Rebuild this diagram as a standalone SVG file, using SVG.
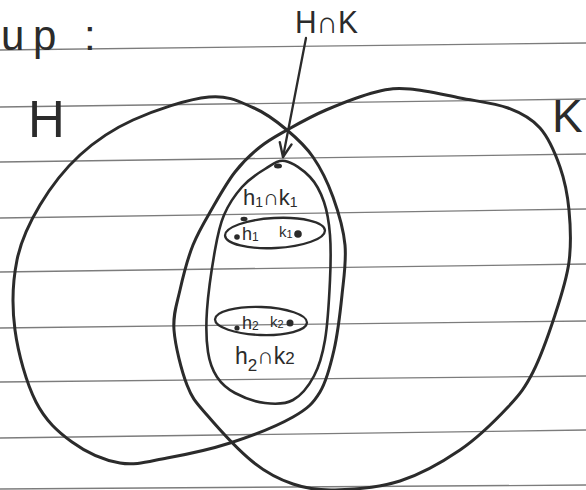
<svg xmlns="http://www.w3.org/2000/svg" width="586" height="490" viewBox="0 0 586 490">
<style>
.rule{stroke:#7c7c7c;stroke-width:1.3;fill:none}
.ink{stroke:#2b2b2b;fill:none;stroke-linecap:round;stroke-linejoin:round}
.big{stroke-width:3}
.mid{stroke-width:2.6}
.sm{stroke-width:2.3}
.dot{fill:#2b2b2b}
text{font-family:"Liberation Sans","DejaVu Sans",sans-serif;fill:#2b2b2b}
</style>
<defs>
<marker id="vhead" viewBox="-16 -8 18 16" markerWidth="18" markerHeight="16" refX="0" refY="0" orient="auto" markerUnits="userSpaceOnUse">
<path d="M-14,-6 L0,0 L-14,6" fill="none" stroke="#2b2b2b" stroke-width="2.4" stroke-linecap="round" stroke-linejoin="round"/>
</marker>
</defs>
<rect width="586" height="490" fill="#ffffff"/>
<g id="paper-lines">
<line class="rule" x1="0" y1="50" x2="586" y2="43"/>
<line class="rule" x1="0" y1="107" x2="586" y2="99"/>
<line class="rule" x1="0" y1="162" x2="586" y2="154"/>
<line class="rule" x1="0" y1="218" x2="586" y2="209"/>
<line class="rule" x1="0" y1="272" x2="586" y2="264"/>
<line class="rule" x1="0" y1="328" x2="586" y2="321"/>
<line class="rule" x1="0" y1="382" x2="586" y2="376"/>
<line class="rule" x1="0" y1="438" x2="586" y2="430"/>
<line class="rule" x1="0" y1="489" x2="586" y2="485"/>
</g>
<g id="title">
<text y="50" font-size="42"><tspan x="1">u</tspan><tspan x="33">p</tspan><tspan x="84">:</tspan></text>
</g>
<g id="set-H">
<path class="ink big" d="M209,97 C229.2,95 241,102.5 254,108 C267,113.5 277.2,121.8 287,130 C296.8,138.2 305.3,145.8 313,157 C320.7,168.2 327.7,182.3 333,197 C338.3,211.7 343.5,228.7 345,245 C346.5,261.3 343.8,277.5 342,295 C340.2,312.5 337.7,333.8 334,350 C330.3,366.2 326.8,380.8 320,392 C313.2,403.2 308,408.5 293,417 C278,425.5 251,436.2 230,443 C209,449.8 185.3,454.7 167,458 C148.7,461.3 135.8,465.7 120,463 C104.2,460.3 86,452.2 72,442 C58,431.8 45.5,420.7 36,402 C26.5,383.3 18.2,353.7 15,330 C11.8,306.3 12.8,280.8 17,260 C21.2,239.2 29.5,222.5 40,205 C50.5,187.5 64.5,169.2 80,155 C95.5,140.8 111.5,129.7 133,120 C154.5,110.3 187.5,99 209,97 Z"/>
<text x="28" y="137" font-size="51">H</text>
</g>
<g id="set-K">
<path class="ink big" d="M287,130 C298,123.8 311.2,116.3 326,110 C340.8,103.7 362,95.5 376,92 C390,88.5 396,88 410,89 C424,90 443.7,94.8 460,98 C476.3,101.2 494.7,103 508,108 C521.3,113 531.3,118.2 540,128 C548.7,137.8 555.2,153.3 560,167 C564.8,180.7 567.5,194.2 569,210 C570.5,225.8 571.3,244.5 569,262 C566.7,279.5 561,296.7 555,315 C549,333.3 540.8,356.7 533,372 C525.2,387.3 520.2,394 508,407 C495.8,420 478,437.7 460,450 C442,462.3 420.8,474.3 400,481 C379.2,487.7 352.8,489.5 335,490 C317.2,490.5 306.7,488.7 293,484 C279.3,479.3 267.3,473.5 253,462 C238.7,450.5 218,427.8 207,415 C196,402.2 192.5,399.2 187,385 C181.5,370.8 175.2,345.8 174,330 C172.8,314.2 176.8,304.2 180,290 C183.2,275.8 187.5,258.8 193,245 C198.5,231.2 206,219.2 213,207 C220,194.8 227.2,182 235,172 C242.8,162 251.3,154 260,147 C268.7,140 276,136.2 287,130 Z"/>
<text x="552" y="132" font-size="46">K</text>
</g>
<g id="H-cap-K">
<path class="ink mid" d="M285,161 C292.5,162.3 303.5,170.2 310,177 C316.5,183.8 320.7,192.3 324,202 C327.3,211.7 329,222 330,235 C331,248 330.8,262.5 330,280 C329.2,297.5 327.7,324 325,340 C322.3,356 319.3,366 314,376 C308.7,386 301.2,395.5 293,400 C284.8,404.5 274.7,404.2 265,403 C255.3,401.8 243,397.3 235,393 C227,388.7 221.5,383.8 217,377 C212.5,370.2 209.7,363.2 208,352 C206.3,340.8 205.8,327 207,310 C208.2,293 212.2,265.8 215,250 C217.8,234.2 219.5,225.5 224,215 C228.5,204.5 235.2,194.7 242,187 C248.8,179.3 257.8,173.3 265,169 C272.2,164.7 277.5,159.7 285,161 Z"/>
<ellipse class="dot" cx="278" cy="166" rx="4" ry="2.5"/>
<text x="243" y="205" font-size="22">h<tspan font-size="14" dy="2">1</tspan><tspan dy="-2">∩k</tspan><tspan font-size="14" dy="2">1</tspan></text>
<text x="235" y="364" font-size="23">h<tspan font-size="17" dy="7">2</tspan><tspan dy="-7">∩k</tspan><tspan font-size="17" dy="0">2</tspan></text>
</g>
<g id="coset-1">
<ellipse class="ink sm" cx="275" cy="233" rx="50" ry="15" transform="rotate(-3 275 233)"/>
<ellipse class="dot" cx="244" cy="219" rx="3.5" ry="2.2"/>
<circle class="dot" cx="237" cy="237" r="2.8"/>
<text x="242" y="240" font-size="18">h<tspan font-size="12" dy="1">1</tspan></text>
<text x="279" y="237" font-size="15">k<tspan font-size="11" dy="1">1</tspan></text>
<circle class="dot" cx="298" cy="234" r="3.8"/>
</g>
<g id="coset-2">
<ellipse class="ink sm" cx="261" cy="321" rx="46" ry="14" transform="rotate(2 261 321)"/>
<circle class="dot" cx="237" cy="328" r="2.6"/>
<text x="242" y="329" font-size="18">h<tspan font-size="12" dy="1">2</tspan></text>
<text x="270" y="327" font-size="15">k<tspan font-size="11" dy="1">2</tspan></text>
<circle class="dot" cx="290" cy="323" r="3.5"/>
</g>
<g id="connectors">
<line class="ink sm" x1="306" y1="38" x2="283" y2="157" marker-end="url(#vhead)"/>
<text x="295" y="33" font-size="31" textLength="63" lengthAdjust="spacingAndGlyphs">H∩K</text>
</g>
</svg>
